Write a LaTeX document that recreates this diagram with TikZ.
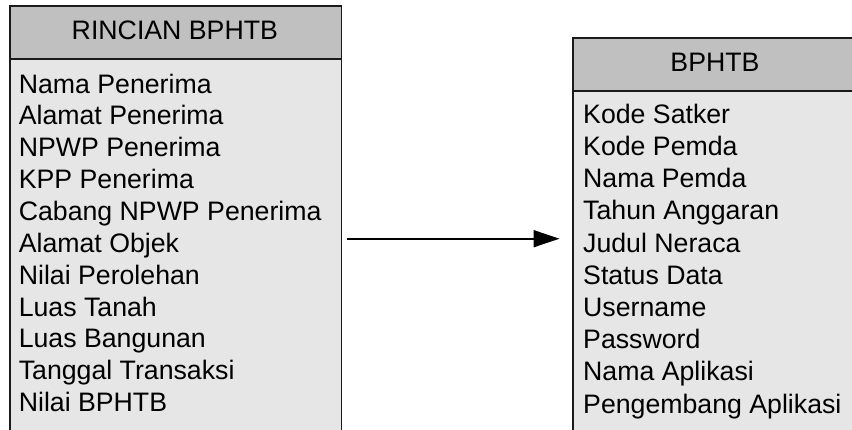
\documentclass[tikz,border=0pt]{standalone}
\usepackage{fontspec}
\setmainfont{Liberation Sans}
\usetikzlibrary{arrows.meta}
\definecolor{hdrgray}{HTML}{C0C0C0}
\definecolor{bodygray}{HTML}{E6E6E6}
\definecolor{edge}{HTML}{1A1A1A}
\tikzset{
  tbox/.style={draw=edge, line width=1.6pt, rectangle, inner sep=0pt, anchor=north west},
  hdrbox/.style={tbox, fill=hdrgray},
  bodybox/.style={tbox, fill=bodygray},
  txt/.style={inner sep=0pt, font=\fontsize{26.7}{32}\selectfont},
  field/.style={txt, anchor=base west},
  title/.style={txt, anchor=base},
  link/.style={line width=1.6pt, draw=black, -{Triangle[length=26pt,width=17pt]}}
}
\begin{document}
\begin{tikzpicture}[x=1pt,y=-1pt]
\useasboundingbox (0,0) rectangle (852,429);
\clip (0,0) rectangle (852,429);
% left table
\node[bodybox, minimum width=331.7pt, minimum height=390pt] (lbody) at (9,58) {};
\node[hdrbox, minimum width=331.7pt, minimum height=53pt] (lhead) at (9,5) {};
\node[title] (ltitle) at (174.85,39.3) {RINCIAN BPHTB};
\foreach \t [count=\i] in {Nama Penerima, Alamat Penerima, NPWP Penerima, KPP Penerima, Cabang NPWP Penerima, Alamat Objek, Nilai Perolehan, Luas Tanah, Luas Bangunan, Tanggal Transaksi, Nilai BPHTB}
  \node[field] (lf\i) at (18.6, 93+31.87*\i-31.87) {\t};
% right table
\node[bodybox, minimum width=286pt, minimum height=360pt] (rbody) at (572,90) {};
\node[hdrbox, minimum width=286pt, minimum height=53pt] (rhead) at (572,37) {};
\node[title] (rtitle) at (715,71.7) {BPHTB};
\foreach \t [count=\i] in {Kode Satker, Kode Pemda, Nama Pemda, Tahun Anggaran, Judul Neraca, Status Data, Username, Password, Nama Aplikasi, Pengembang Aplikasi}
  \node[field] (rf\i) at (583.0, 123.3+32.2*\i-32.2) {\t};
% connector
\coordinate (astart) at (347,238.7);
\coordinate (aend) at (559.5,238.7);
\draw[link] (astart) -- (aend);
\end{tikzpicture}
\end{document}
